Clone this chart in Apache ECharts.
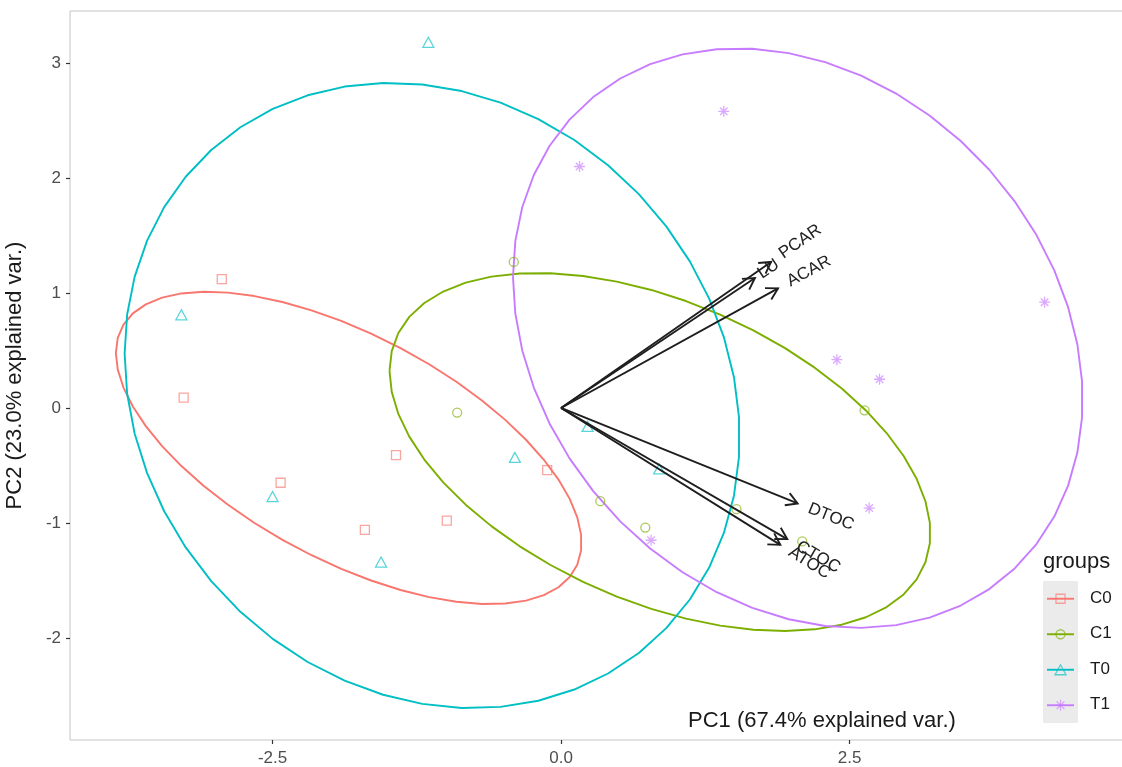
<!DOCTYPE html>
<html><head><meta charset="utf-8">
<script src="https://cdn.jsdelivr.net/npm/echarts@6/dist/echarts.min.js"></script>
<style>html,body{margin:0;padding:0;background:#fff}#c{width:1122px;height:767px}</style>
</head><body><div id="c"></div>
<script>
// ---- data ----
const groupNames = ['C0', 'C1', 'T0', 'T1'];
const C0 = [[-2.94, 1.12], [-3.27, 0.09], [-2.43, -0.65], [-1.43, -0.41], [-1.70, -1.06], [-0.99, -0.98], [-0.12, -0.54]];
const C1 = [[-0.41, 1.27], [-0.90, -0.04], [0.34, -0.81], [0.73, -1.04], [1.52, -0.88], [2.09, -1.16], [2.63, -0.02]];
const T0 = [[-1.15, 3.18], [-3.29, 0.81], [-2.50, -0.77], [-1.56, -1.34], [-0.40, -0.43], [0.23, -0.16], [0.85, -0.53]];
const T1 = [[1.41, 2.58], [0.16, 2.10], [2.39, 0.42], [2.76, 0.25], [4.19, 0.92], [2.67, -0.87], [0.78, -1.15]];
const varNames = ['PCAR', 'LU', 'ACAR', 'DTOC', 'CTOC', 'ATOC'];
const varX = [1.82, 1.68, 1.88, 2.05, 1.96, 1.90];
const varY = [1.27, 1.13, 1.04, -0.83, -1.14, -1.19];
const xTicks = [-2.5, 0, 2.5];
const yTicks = [-2, -1, 0, 1, 2, 3];
const ellipseProb = 0.805;
const xTitle = 'PC1 (67.4% explained var.)';
const yTitle = 'PC2 (23.0% explained var.)';
const legendTitle = 'groups';

// ---- styling ----
const groupData = [C0, C1, T0, T1];
const colors = ['#F8766D', '#7CAE00', '#00BFC4', '#C77CFF'];
const ASTER = 'path://M5,0L5,10M0,5L10,5M1.6,1.6L8.4,8.4M1.6,8.4L8.4,1.6';
const symbols = ['rect', 'circle', 'triangle', ASTER];
const symSizes = [9, 9, [11, 10], 11];
const FONT = '"Liberation Sans", Arial, sans-serif';

// normal-theory data ellipse, computed from each group's points
function dataEllipse(pts) {
  const n = pts.length;
  let mx = 0, my = 0;
  pts.forEach(p => { mx += p[0]; my += p[1]; });
  mx /= n; my /= n;
  let a = 0, b = 0, c = 0;
  pts.forEach(p => { const dx = p[0] - mx, dy = p[1] - my; a += dx * dx; b += dx * dy; c += dy * dy; });
  a /= (n - 1); b /= (n - 1); c /= (n - 1);
  const r11 = Math.sqrt(a), r12 = b / r11, r22 = Math.sqrt(c - r12 * r12);
  const ed = Math.sqrt(-2 * Math.log(1 - ellipseProb));
  const out = [];
  for (let i = 0; i < 50; i++) {
    const t = -Math.PI + 2 * Math.PI * i / 49;
    const ct = Math.cos(t), st = Math.sin(t);
    out.push([mx + ed * ct * r11, my + ed * (ct * r12 + st * r22)]);
  }
  return out;
}

const measureCtx = document.createElement('canvas').getContext('2d');
const ARROW_FONT = '17px ' + FONT;
measureCtx.font = ARROW_FONT;

const series = [];
groupData.forEach((pts, gi) => {
  series.push({
    type: 'line', name: groupNames[gi] + ' ellipse', data: dataEllipse(pts),
    showSymbol: false, symbol: 'none', smooth: false, silent: true,
    lineStyle: { color: colors[gi], width: 1.9 }, z: 2
  });
});
groupData.forEach((pts, gi) => {
  series.push({
    type: 'scatter', name: groupNames[gi], data: pts,
    symbol: symbols[gi], symbolSize: symSizes[gi],
    itemStyle: { color: 'rgba(0,0,0,0)', borderColor: colors[gi], borderWidth: 1.3, opacity: 0.65 },
    z: 3
  });
});
series.push({
  type: 'custom', name: 'loadings', z: 5,
  data: varNames.map((n, i) => [varX[i], varY[i]]),
  renderItem: function (params, api) {
    const o = api.coord([0, 0]);
    const e = api.coord([api.value(0), api.value(1)]);
    const ang = Math.atan2(e[1] - o[1], e[0] - o[0]);
    const L = 13, h = Math.PI / 6;
    const h1 = [e[0] - L * Math.cos(ang - h), e[1] - L * Math.sin(ang - h)];
    const h2 = [e[0] - L * Math.cos(ang + h), e[1] - L * Math.sin(ang + h)];
    const name = varNames[params.dataIndex];
    const w = measureCtx.measureText(name).width;
    const stroke = '#1e1e1e';
    return {
      type: 'group', children: [
        { type: 'line', shape: { x1: o[0], y1: o[1], x2: e[0], y2: e[1] }, style: { stroke: stroke, lineWidth: 1.9 } },
        { type: 'polyline', shape: { points: [h1, e, h2] }, style: { stroke: stroke, fill: null, lineWidth: 1.9 } },
        { type: 'text', x: e[0], y: e[1], rotation: -ang,
          style: { text: name, x: 0.25 * w, y: 0, align: 'left', verticalAlign: 'middle', font: ARROW_FONT, fill: '#222' } }
      ]
    };
  }
});

// legend drawn as graphics (line + symbol keys on grey background)
const legendX = 1043, legendTop = 581, keyH = 35.5;
const graphics = [
  { type: 'text', left: 688, top: 710, style: { text: xTitle, font: '22px ' + FONT, fill: '#1a1a1a' } },
  { type: 'text', left: legendX, top: 551, style: { text: legendTitle, font: '22px ' + FONT, fill: '#1a1a1a' } },
  { type: 'rect', shape: { x: legendX, y: legendTop, width: 35, height: keyH * 4 }, style: { fill: '#EBEBEB' }, z: 10 }
];
groupNames.forEach((g, i) => {
  const cy = legendTop + keyH * (i + 0.5);
  const cx = legendX + 17.5;
  const col = colors[i];
  graphics.push({ type: 'line', shape: { x1: legendX + 4, y1: cy, x2: legendX + 31, y2: cy }, style: { stroke: col, lineWidth: 1.9 }, z: 11 });
  const ss = { stroke: col, fill: null, lineWidth: 1.3, opacity: 0.65 };
  if (i === 0) graphics.push({ type: 'rect', shape: { x: cx - 4.5, y: cy - 4.5, width: 9, height: 9 }, style: ss, z: 12 });
  if (i === 1) graphics.push({ type: 'circle', shape: { cx: cx, cy: cy, r: 4.5 }, style: ss, z: 12 });
  if (i === 2) graphics.push({ type: 'polygon', shape: { points: [[cx, cy - 5], [cx + 5.5, cy + 5], [cx - 5.5, cy + 5]] }, style: ss, z: 12 });
  if (i === 3) {
    [[0, -5.5, 0, 5.5], [-5.5, 0, 5.5, 0], [-3.9, -3.9, 3.9, 3.9], [-3.9, 3.9, 3.9, -3.9]].forEach(s => {
      graphics.push({ type: 'line', shape: { x1: cx + s[0], y1: cy + s[1], x2: cx + s[2], y2: cy + s[3] }, style: ss, z: 12 });
    });
  }
  graphics.push({ type: 'text', left: legendX + 47, top: cy - 9, style: { text: g, font: '17px ' + FONT, fill: '#1a1a1a' }, z: 12 });
});

const chart = echarts.init(document.getElementById('c'), null, { renderer: 'canvas' });
chart.setOption({
  animation: false,
  backgroundColor: '#ffffff',
  grid: { left: 70, top: 11, width: 1060, height: 729, show: true, borderColor: '#c4c4c4', borderWidth: 1,
          backgroundColor: 'transparent', containLabel: false, outerBoundsMode: 'none' },
  xAxis: {
    type: 'value', min: -4.255, max: 4.930,
    axisLine: { show: false, onZero: false },
    axisTick: { show: true, customValues: xTicks, length: 4, lineStyle: { color: '#333', width: 1.2 } },
    axisLabel: { customValues: xTicks, formatter: v => Number(v).toFixed(1), color: '#4D4D4D', fontSize: 17, fontFamily: FONT, margin: 10 },
    splitLine: { show: false }
  },
  yAxis: {
    type: 'value', min: -2.887, max: 3.452,
    name: yTitle, nameLocation: 'middle', nameGap: 44, nameRotate: 90,
    nameTextStyle: { fontSize: 22, fontFamily: FONT, color: '#1a1a1a' },
    axisLine: { show: false, onZero: false },
    axisTick: { show: true, customValues: yTicks, length: 4, lineStyle: { color: '#333', width: 1.2 } },
    axisLabel: { customValues: yTicks, formatter: v => String(Math.round(v)), color: '#4D4D4D', fontSize: 17, fontFamily: FONT, margin: 9 },
    splitLine: { show: false }
  },
  graphic: graphics,
  series: series
});
</script>
</body></html>
